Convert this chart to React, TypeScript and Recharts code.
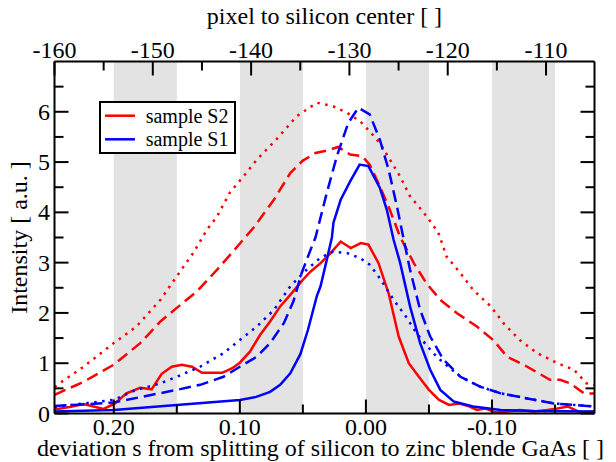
import React from 'react';
import { LineChart, Line, XAxis, YAxis, ReferenceArea, Legend } from 'recharts';

const FONT = '"Liberation Serif", "Times New Roman", serif';
const RED = '#ff0000';
const BLUE = '#0000ff';

// [deviation s, intensity]
const s2Solid = [
  [0.247, 0.08], [0.235, 0.13], [0.224, 0.19], [0.216, 0.14], [0.208, 0.09], [0.199, 0.2],
  [0.19, 0.4], [0.179, 0.51], [0.17, 0.48], [0.162, 0.79], [0.154, 0.93], [0.146, 0.97],
  [0.138, 0.93], [0.13, 0.81], [0.114, 0.81], [0.106, 0.9], [0.1, 1.01], [0.092, 1.23],
  [0.084, 1.56], [0.076, 1.83], [0.068, 2.13], [0.06, 2.36], [0.05, 2.66], [0.044, 2.82],
  [0.036, 2.99], [0.028, 3.19], [0.02, 3.42], [0.012, 3.29], [0.004, 3.39], [-0.002, 3.36],
  [-0.01, 2.99], [-0.018, 2.39], [-0.026, 1.53], [-0.034, 1.0], [-0.042, 0.73], [-0.05, 0.47],
  [-0.058, 0.27], [-0.066, 0.17], [-0.074, 0.2], [-0.081, 0.15], [-0.088, 0.07], [-0.095, 0.1],
  [-0.103, 0.02], [-0.112, 0.04], [-0.122, 0.07], [-0.133, 0.04], [-0.144, 0.07], [-0.152, 0.1],
  [-0.16, 0.14], [-0.17, 0.02], [-0.181, 0.04],
];
const s2Dashed = [
  [0.247, 0.37], [0.224, 0.63], [0.2, 0.97], [0.179, 1.4], [0.163, 1.83], [0.15, 2.1],
  [0.134, 2.43], [0.118, 2.86], [0.102, 3.32], [0.089, 3.7], [0.073, 4.25], [0.06, 4.78],
  [0.05, 5.03], [0.04, 5.18], [0.031, 5.23], [0.022, 5.3], [0.0125, 5.15], [0.003, 5.12],
  [-0.003, 4.95], [-0.011, 4.52], [-0.019, 4.05], [-0.027, 3.52], [-0.038, 2.99], [-0.048, 2.59],
  [-0.059, 2.26], [-0.072, 2.0], [-0.088, 1.73], [-0.101, 1.46], [-0.112, 1.13], [-0.128, 0.93],
  [-0.146, 0.67], [-0.154, 0.67], [-0.162, 0.6], [-0.173, 0.4], [-0.181, 0.4],
];
const s2Dotted = [
  [0.247, 0.53], [0.224, 0.93], [0.2, 1.4], [0.182, 1.73], [0.163, 2.26], [0.15, 2.73],
  [0.137, 3.19], [0.126, 3.66], [0.118, 3.92], [0.108, 4.39], [0.097, 4.72], [0.0865, 5.05],
  [0.071, 5.45], [0.055, 5.91], [0.039, 6.18], [0.026, 6.11], [0.015, 5.98], [0.0045, 5.81],
  [-0.003, 5.61], [-0.011, 5.38], [-0.019, 5.05], [-0.027, 4.72], [-0.035, 4.32], [-0.046, 3.99],
  [-0.054, 3.72], [-0.058, 3.56], [-0.064, 3.12], [-0.075, 2.79], [-0.085, 2.46], [-0.099, 2.13],
  [-0.109, 1.8], [-0.122, 1.46], [-0.136, 1.2], [-0.152, 1.0], [-0.165, 0.87], [-0.175, 0.6],
  [-0.181, 0.57],
];
const s1Solid = [
  [0.247, 0.04], [0.2, 0.07], [0.15, 0.17], [0.1, 0.27], [0.087, 0.33], [0.076, 0.43],
  [0.068, 0.57], [0.06, 0.8], [0.052, 1.18], [0.046, 1.66], [0.039, 2.33], [0.036, 2.53],
  [0.031, 3.06], [0.027, 3.5], [0.0257, 3.8], [0.02, 4.25], [0.0124, 4.62], [0.005, 4.95],
  [-0.002, 4.92], [-0.011, 4.49], [-0.0166, 4.05], [-0.0219, 3.46], [-0.0272, 2.99], [-0.035, 2.13],
  [-0.043, 1.4], [-0.051, 0.87], [-0.059, 0.47], [-0.0695, 0.24], [-0.085, 0.14], [-0.107, 0.07],
  [-0.133, 0.05], [-0.181, 0.04],
];
const s1Dashed = [
  [0.247, 0.15], [0.224, 0.18], [0.2, 0.22], [0.15, 0.47], [0.1315, 0.57], [0.113, 0.73],
  [0.1, 0.93], [0.0865, 1.13], [0.076, 1.4], [0.065, 1.8], [0.0575, 2.23], [0.051, 2.79],
  [0.044, 3.25], [0.04, 3.5], [0.031, 4.39], [0.023, 5.12], [0.014, 5.78], [0.006, 6.08],
  [-0.003, 5.95], [-0.011, 5.45], [-0.018, 4.85], [-0.0246, 4.12], [-0.03, 3.46], [-0.035, 2.86],
  [-0.043, 2.06], [-0.051, 1.53], [-0.0615, 1.07], [-0.075, 0.73], [-0.091, 0.53], [-0.107, 0.4],
  [-0.128, 0.3], [-0.149, 0.2], [-0.181, 0.14],
];
const s1Dotted = [
  [0.247, 0.13], [0.224, 0.2], [0.2, 0.27], [0.182, 0.47], [0.163, 0.6], [0.15, 0.73],
  [0.1315, 0.93], [0.113, 1.2], [0.1, 1.46], [0.0865, 1.73], [0.073, 2.06], [0.06, 2.53],
  [0.047, 2.86], [0.036, 3.1], [0.026, 3.22], [0.015, 3.19], [0.0045, 3.09], [-0.003, 2.96],
  [-0.011, 2.69], [-0.022, 2.26], [-0.0325, 1.9], [-0.04, 1.6], [-0.048, 1.36], [-0.056, 1.13],
  [-0.062, 1.0], [-0.075, 0.73], [-0.091, 0.53], [-0.107, 0.4], [-0.128, 0.3], [-0.149, 0.2],
  [-0.181, 0.14],
];

// grey stripes along the deviation axis
const bands = [[0.2, 0.15], [0.1, 0.05], [0.0, -0.05], [-0.1, -0.15]];

const sDomain = [-0.1813, 0.247];
const pixelDomain = [-160, -105.07];
const sTicks = [0.2, 0.15, 0.1, 0.05, 0, -0.05, -0.1, -0.15];
const pixelTicks = [-160, -155, -150, -145, -140, -135, -130, -125, -120, -115, -110];
const intensityTicks = [0, 0.5, 1, 1.5, 2, 2.5, 3, 3.5, 4, 4.5, 5, 5.5, 6, 6.5];

const toPoints = (pts: number[][]) => pts.map(([s, v]) => ({ s, v }));

const MAJOR = 14;
const MINOR = 9;
const txt = { fontFamily: FONT, fontSize: 24, fill: '#000' };

function BottomTick({ x, y, payload }: any) {
  const v = payload.value;
  const major = Math.abs(Math.round(v * 100)) % 10 === 0;
  return (
    <g>
      <line x1={x} y1={y} x2={x} y2={y - (major ? MAJOR : MINOR)} stroke="#000" strokeWidth={2} />
      {major && <text x={x} y={y + 21} textAnchor="middle" {...txt}>{v.toFixed(2)}</text>}
    </g>
  );
}

function TopTick({ x, y, payload }: any) {
  const v = payload.value;
  const major = v % 10 === 0;
  return (
    <g>
      <line x1={x} y1={y} x2={x} y2={y + (major ? MAJOR : MINOR)} stroke="#000" strokeWidth={2} />
      {major && <text x={x} y={y - 3.5} textAnchor="middle" {...txt}>{v}</text>}
    </g>
  );
}

function LeftTick({ x, y, payload }: any) {
  const v = payload.value;
  const major = Number.isInteger(v);
  return (
    <g>
      <line x1={x} y1={y} x2={x + (major ? MAJOR : MINOR)} y2={y} stroke="#000" strokeWidth={2} />
      {major && <text x={x - 4.5} y={y + 8} textAnchor="end" {...txt}>{v}</text>}
    </g>
  );
}

function RightTick({ x, y, payload }: any) {
  const major = Number.isInteger(payload.value);
  return <line x1={x} y1={y} x2={x - (major ? MAJOR : MINOR)} y2={y} stroke="#000" strokeWidth={2} />;
}

function BottomTitle(props: any) {
  const { x, y, width, height } = props.viewBox;
  return (
    <text x={x + width / 2 - 4} y={y + height - 6.5} textAnchor="middle" {...txt}>
      deviation s from splitting of silicon to zinc blende GaAs [  ]
    </text>
  );
}

function TopTitle(props: any) {
  const { x, width } = props.viewBox;
  return (
    <text x={x + width / 2} y={24} textAnchor="middle" {...txt}>
      pixel to silicon center [  ]
    </text>
  );
}

function LeftTitle(props: any) {
  const { x, y, height } = props.viewBox;
  const cx = x + 27;
  const cy = y + height / 2;
  return (
    <text x={cx} y={cy} transform={`rotate(-90, ${cx}, ${cy})`} textAnchor="middle" {...txt}>
      Intensity [ a.u. ]
    </text>
  );
}

function LegendBox() {
  return (
    <svg width={137} height={53} style={{ display: 'block' }}>
      <rect x={1} y={1} width={135} height={51} fill="#fff" stroke="#000" strokeWidth={2} />
      <line x1={6} x2={36} y1={14.7} y2={14.7} stroke={RED} strokeWidth={2.5} />
      <text x={46.7} y={21.5} fontFamily={FONT} fontSize={20} fill="#000">sample S2</text>
      <line x1={6} x2={36} y1={38.3} y2={38.3} stroke={BLUE} strokeWidth={2.5} />
      <text x={46.7} y={45} fontFamily={FONT} fontSize={20} fill="#000">sample S1</text>
    </svg>
  );
}

const series = [
  { key: 's2dot', pts: s2Dotted, color: RED, dash: '2.5 5.5' },
  { key: 's2dash', pts: s2Dashed, color: RED, dash: '12 6' },
  { key: 's2solid', pts: s2Solid, color: RED, dash: undefined },
  { key: 's1dot', pts: s1Dotted, color: BLUE, dash: '2.5 5.5' },
  { key: 's1dash', pts: s1Dashed, color: BLUE, dash: '12 6' },
  { key: 's1solid', pts: s1Solid, color: BLUE, dash: undefined },
];

export default function App() {
  return (
    <div style={{ position: 'absolute', left: 0, top: 0, background: '#fff' }}>
      <LineChart width={616} height={462} margin={{ top: 0, right: 0, bottom: 0, left: 0 }}>
        {bands.map(([a, b], i) => (
          <ReferenceArea
            key={i}
            xAxisId="s"
            yAxisId="int"
            x1={a}
            x2={b}
            fill="#e3e3e3"
            fillOpacity={1}
            stroke="none"
            ifOverflow="hidden"
          />
        ))}
        {series.map((d) => (
          <Line
            key={d.key}
            xAxisId="s"
            yAxisId="int"
            data={toPoints(d.pts)}
            dataKey="v"
            type="linear"
            stroke={d.color}
            strokeWidth={2.5}
            strokeDasharray={d.dash}
            dot={false}
            legendType="none"
            isAnimationActive={false}
          />
        ))}
        {/* invisible series so the pixel axis on top gets drawn */}
        <Line
          xAxisId="pix"
          yAxisId="right"
          data={pixelDomain.map((p) => ({ s: p, v: 0 }))}
          dataKey="v"
          stroke="none"
          dot={false}
          activeDot={false}
          legendType="none"
          isAnimationActive={false}
        />
        <XAxis
          xAxisId="s"
          dataKey="s"
          type="number"
          orientation="bottom"
          reversed
          domain={sDomain}
          allowDataOverflow
          ticks={sTicks}
          interval={0}
          height={48.5}
          tickSize={0}
          tickMargin={0}
          tickLine={false}
          tick={<BottomTick />}
          axisLine={{ stroke: '#000', strokeWidth: 2 }}
          label={<BottomTitle />}
        />
        <XAxis
          xAxisId="pix"
          dataKey="s"
          type="number"
          orientation="top"
          domain={pixelDomain}
          allowDataOverflow
          ticks={pixelTicks}
          interval={0}
          height={61.5}
          tickSize={0}
          tickMargin={0}
          tickLine={false}
          tick={<TopTick />}
          axisLine={{ stroke: '#000', strokeWidth: 2 }}
          label={<TopTitle />}
        />
        <YAxis
          yAxisId="int"
          type="number"
          domain={[0, 7]}
          allowDataOverflow
          ticks={intensityTicks}
          interval={0}
          width={54.5}
          tickSize={0}
          tickMargin={0}
          tickLine={false}
          tick={<LeftTick />}
          axisLine={{ stroke: '#000', strokeWidth: 2 }}
          label={<LeftTitle />}
        />
        <YAxis
          yAxisId="right"
          orientation="right"
          type="number"
          domain={[0, 7]}
          allowDataOverflow
          ticks={intensityTicks}
          interval={0}
          width={21.5}
          tickSize={0}
          tickMargin={0}
          tickLine={false}
          tick={<RightTick />}
          axisLine={{ stroke: '#000', strokeWidth: 2 }}
        />
        <Legend
          layout="horizontal"
          verticalAlign="middle"
          align="center"
          content={() => <LegendBox />}
          wrapperStyle={{ left: 99, top: 101, width: 137, height: 53 }}
        />
      </LineChart>
    </div>
  );
}
